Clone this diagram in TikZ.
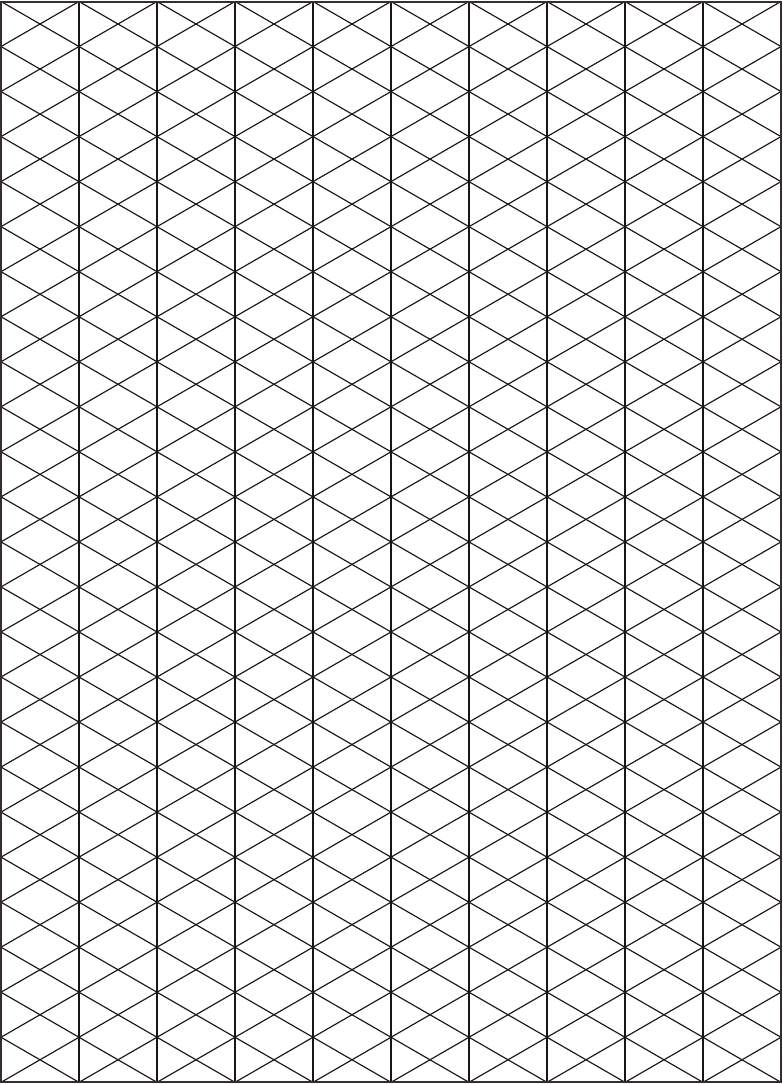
\documentclass[tikz,border=0pt]{standalone}
\definecolor{gridcol}{RGB}{25,22,22}
\definecolor{framecol}{RGB}{55,45,45}
\tikzset{
  vline/.style={draw=gridcol,line width=1.4pt},
  dline/.style={draw=gridcol,line width=1.15pt},
  frame/.style={draw=framecol,line width=2pt}
}
\begin{document}
\begin{tikzpicture}[x=1pt,y=-1pt]
\useasboundingbox (0,0) rectangle (782,1084);
\fill[white] (0,0) rectangle (782,1084);
\begin{scope}
\clip (1,1.5) rectangle (781,1082);
\foreach \m in {-10,...,24} {
  \draw[dline] (1,{1.5+45.033*\m}) -- (781,{1.5+45.033*\m+450.33});
}
\foreach \m in {0,...,34} {
  \draw[dline] (1,{1.5+45.033*\m}) -- (781,{1.5+45.033*\m-450.33});
}
\foreach \k in {1,...,9} {
  \draw[vline] ({1+78*\k},1.5) -- ({1+78*\k},1082);
}
\end{scope}
\draw[frame] (1,1.5) rectangle (781,1082);
\end{tikzpicture}
\end{document}
